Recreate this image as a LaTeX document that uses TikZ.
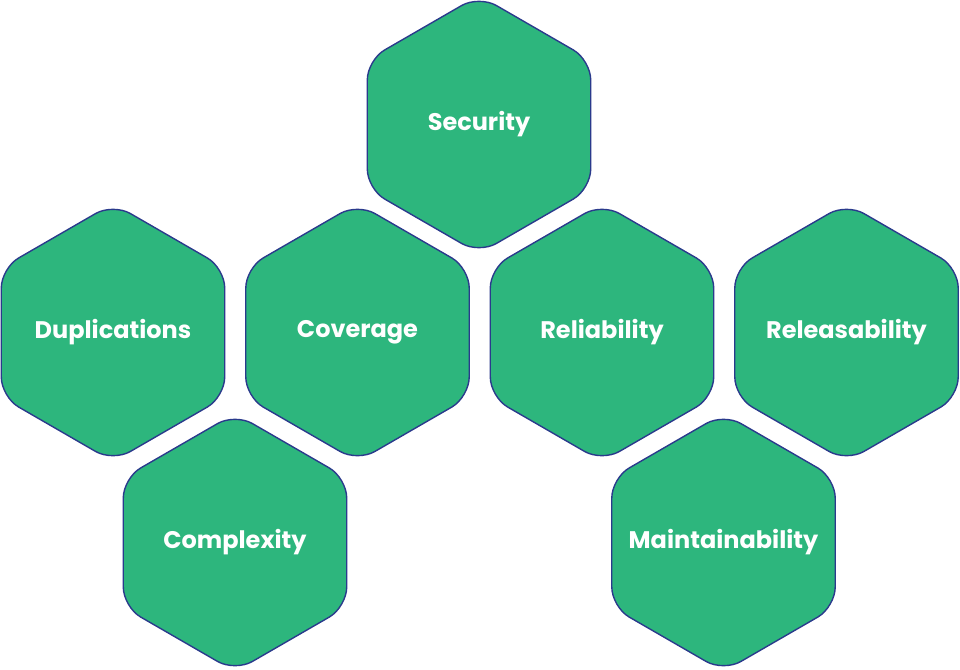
\documentclass[tikz,border=0pt]{standalone}
\usepackage{fontspec}
\setmainfont{Poppins}
\usetikzlibrary{shapes.geometric}
\definecolor{hexgreen}{HTML}{2DB67D}
\definecolor{hexnavy}{HTML}{2A3A8C}
\newcommand{\hexlabel}[1]{\raisebox{-2pt}{\makebox[0pt][c]{#1}}}
\tikzset{
  hexa/.style={regular polygon, regular polygon sides=6, shape border rotate=30,
    minimum size=258pt, inner sep=0pt, outer sep=0pt, draw=hexnavy, line width=1.4pt,
    fill=hexgreen, rounded corners=20pt, text=white,
    font=\fontsize{24}{28}\selectfont\bfseries}
}
\begin{document}
\begin{tikzpicture}[x=1pt,y=-1pt]
\useasboundingbox (0,0) rectangle (960,669);
\node[hexa] (security) at (479,124.5) {\hexlabel{Security}};
\node[hexa] (duplications) at (113,332.5) {\hexlabel{Duplications}};
\node[hexa] (coverage) at (357.5,332.5) {\hexlabel{Coverage}};
\node[hexa] (reliability) at (602,332.5) {\hexlabel{Reliability}};
\node[hexa] (releasability) at (846.5,332.5) {\hexlabel{Releasability}};
\node[hexa] (complexity) at (235,542.5) {\hexlabel{Complexity}};
\node[hexa] (maintainability) at (723.5,542.5) {\hexlabel{Maintainability}};
\end{tikzpicture}
\end{document}
